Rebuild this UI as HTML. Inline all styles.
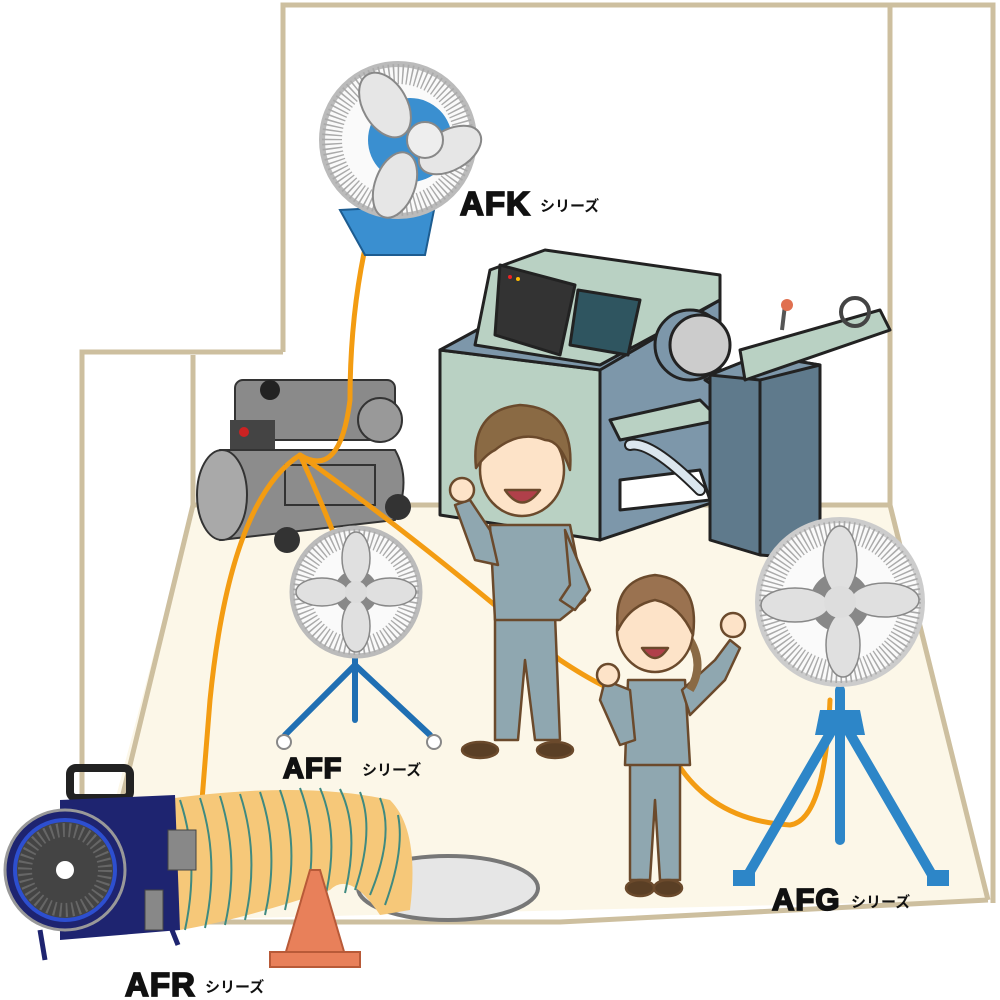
<!DOCTYPE html>
<html><head><meta charset="utf-8"><style>
html,body{margin:0;padding:0;background:#fff;}
svg{display:block;}
text{font-family:"Liberation Sans","Noto Sans CJK JP",sans-serif;font-weight:bold;fill:#111;}
.big{stroke:#111;stroke-width:1.8;letter-spacing:1px;}
</style></head><body>
<svg width="1000" height="1000" viewBox="0 0 1000 1000" xmlns="http://www.w3.org/2000/svg">
<!-- floor -->
<polygon points="193,505 890,505 988,900 83,922" fill="#fcf7e8"/>
<g stroke="#cdbf9f" stroke-width="5" fill="none">
<polyline points="283,352 283,5 993,5 993,903"/>
<polyline points="283,352 82,352 82,925"/>
<line x1="193" y1="355" x2="193" y2="505"/>
<line x1="890" y1="5" x2="890" y2="505"/>
<polyline points="193,505 890,505 988,900"/>
<line x1="193" y1="505" x2="92" y2="922"/>
<polyline points="82,922 560,922 988,900"/>
</g>

<!-- lathe machine -->
<g stroke="#222" stroke-width="3" stroke-linejoin="round">
<polygon points="600,540 720,500 720,280 600,300" fill="#7d97aa"/>
<polygon points="440,350 600,370 600,540 440,515" fill="#b9d1c3"/>
<polygon points="440,350 600,370 720,300 560,285" fill="#7d97aa"/>
<polygon points="490,270 545,250 720,275 720,300 600,365 475,345" fill="#b9d1c3"/>
<polygon points="500,265 575,285 560,355 495,335" fill="#333"/>
<polygon points="578,290 640,300 628,355 570,345" fill="#2f5560"/>
<polygon points="610,420 700,400 720,420 620,440" fill="#b9d1c3"/>
<polygon points="620,480 700,470 710,500 620,510" fill="#fff"/>
<circle cx="690" cy="345" r="35" fill="#7d97aa"/>
<circle cx="700" cy="345" r="30" fill="#ccc"/>
<polygon points="705,380 820,330 830,345 720,390" fill="#b9d1c3"/>
<polygon points="710,375 760,355 820,365 820,560 760,555 710,540" fill="#5f7a8c"/>
<polygon points="710,375 760,355 820,365 760,380" fill="#7d97aa"/>
<line x1="760" y1="380" x2="760" y2="555"/>
<polygon points="740,350 880,310 890,330 745,380" fill="#b9d1c3"/>
</g>
<path d="M630,445 Q650,440 700,490" stroke="#222" stroke-width="12" stroke-linecap="round" fill="none"/>
<path d="M630,445 Q650,440 700,490" stroke="#dbe6ee" stroke-width="8" stroke-linecap="round" fill="none"/>
<circle cx="855" cy="312" r="14" fill="none" stroke="#444" stroke-width="4"/>
<line x1="785" y1="305" x2="782" y2="330" stroke="#555" stroke-width="4"/>
<circle cx="787" cy="305" r="6" fill="#e07050"/>
<circle cx="510" cy="277" r="2" fill="#e22"/><circle cx="518" cy="279" r="2" fill="#fb0"/>

<!-- compressor -->
<g>
<rect x="235" y="380" width="160" height="60" rx="8" fill="#8a8a8a" stroke="#333" stroke-width="2"/>
<circle cx="380" cy="420" r="22" fill="#999" stroke="#333" stroke-width="2"/>
<circle cx="270" cy="390" r="10" fill="#222"/>
<rect x="230" y="420" width="45" height="35" fill="#444"/>
<circle cx="244" cy="432" r="5" fill="#c22"/>
<path d="M220,450 L395,450 Q412,480 395,520 L220,540 Q195,500 220,450Z" fill="#8c8c8c" stroke="#333" stroke-width="2"/>
<ellipse cx="222" cy="495" rx="25" ry="45" fill="#a9a9a9" stroke="#333" stroke-width="2"/>
<rect x="285" y="465" width="90" height="40" fill="none" stroke="#333" stroke-width="2"/>
<circle cx="287" cy="540" r="13" fill="#333"/><circle cx="398" cy="507" r="13" fill="#333"/>
</g>

<!-- hoses -->
<g stroke="#f39c12" stroke-width="5" fill="none" stroke-linecap="round">
<path d="M300,455 Q340,480 350,400 Q350,260 395,150"/>
<path d="M300,455 Q230,500 210,700 L200,825"/>
<path d="M300,455 Q330,520 355,590"/>
<path d="M300,455 Q420,540 560,660 Q620,700 650,700"/>
<path d="M665,740 Q700,820 790,825 Q825,820 830,700"/>
</g>

<!-- AFK wall fan -->
<g>
<polygon points="340,210 435,205 425,255 365,255" fill="#3a8fd0" stroke="#1d5c90" stroke-width="2"/>
<circle cx="398" cy="140" r="76" fill="#fafafa" stroke="#bbb" stroke-width="6"/>
<circle cx="398" cy="140" r="66" fill="none" stroke="#aaa" stroke-width="20" stroke-dasharray="1.5 3"/>
<circle cx="410" cy="140" r="42" fill="#3a8fd0"/>
<g fill="#e6e6e6" stroke="#888" stroke-width="2">
<ellipse cx="385" cy="105" rx="22" ry="35" transform="rotate(-30 385 105)"/>
<ellipse cx="450" cy="150" rx="20" ry="34" transform="rotate(60 450 150)"/>
<ellipse cx="395" cy="185" rx="20" ry="34" transform="rotate(20 395 185)"/>
</g>
<circle cx="425" cy="140" r="18" fill="#eee" stroke="#888" stroke-width="2"/>
</g>
<text class="big" x="460" y="215" font-size="33">AFK</text><text x="540" y="211" font-size="15">シリーズ</text>

<!-- AFF stand fan -->
<g stroke="#1f6fb3" stroke-width="6" stroke-linecap="round">
<line x1="355" y1="655" x2="355" y2="720"/>
<line x1="355" y1="665" x2="285" y2="735"/>
<line x1="355" y1="665" x2="430" y2="735"/>
</g>
<circle cx="284" cy="742" r="7" fill="#fff" stroke="#888" stroke-width="2"/>
<circle cx="434" cy="742" r="7" fill="#fff" stroke="#888" stroke-width="2"/>
<circle cx="356" cy="592" r="64" fill="#fafafa" stroke="#bbb" stroke-width="5"/>
<circle cx="356" cy="592" r="54" fill="none" stroke="#aaa" stroke-width="18" stroke-dasharray="1.5 3"/>
<circle cx="356" cy="592" r="22" fill="#888"/>
<g fill="#e0e0e0" stroke="#888" stroke-width="1.5">
<ellipse cx="356" cy="558" rx="14" ry="26"/><ellipse cx="356" cy="626" rx="14" ry="26"/>
<ellipse cx="322" cy="592" rx="26" ry="14"/><ellipse cx="390" cy="592" rx="26" ry="14"/>
</g>
<circle cx="356" cy="592" r="11" fill="#ddd"/>
<text class="big" x="283" y="778" font-size="29">AFF</text><text x="362" y="775" font-size="15">シリーズ</text>

<!-- AFG fan -->
<g stroke="#2d86c8" stroke-width="10" stroke-linecap="round">
<line x1="840" y1="690" x2="840" y2="840"/>
<line x1="835" y1="725" x2="745" y2="880"/>
<line x1="845" y1="725" x2="935" y2="880"/>
</g>
<polygon points="820,710 860,710 865,735 815,735" fill="#2d86c8"/>
<rect x="733" y="870" width="22" height="16" fill="#2d86c8"/><rect x="927" y="870" width="22" height="16" fill="#2d86c8"/>
<circle cx="840" cy="602" r="82" fill="#fafafa" stroke="#ccc" stroke-width="6"/>
<circle cx="840" cy="602" r="70" fill="none" stroke="#aaa" stroke-width="22" stroke-dasharray="1.5 3"/>
<circle cx="840" cy="602" r="30" fill="#888"/>
<g fill="#e0e0e0" stroke="#888" stroke-width="1.5">
<ellipse cx="840" cy="560" rx="17" ry="34"/><ellipse cx="843" cy="645" rx="17" ry="32"/>
<ellipse cx="795" cy="605" rx="34" ry="17"/><ellipse cx="885" cy="600" rx="34" ry="17"/>
</g>
<circle cx="840" cy="602" r="16" fill="#ddd"/>
<text class="big" x="772" y="910" font-size="31">AFG</text><text x="851" y="907" font-size="15">シリーズ</text>

<!-- man -->
<g stroke="#6b4a2c" stroke-width="2.5" stroke-linejoin="round">
<polygon points="495,615 555,615 560,740 535,740 525,660 518,740 495,740" fill="#8fa7b0"/>
<polygon points="490,525 570,525 585,600 560,620 495,620" fill="#8fa7b0"/>
<polygon points="490,530 470,500 455,505 475,560 498,565" fill="#8fa7b0"/>
<polygon points="565,530 590,590 575,610 560,600 570,585" fill="#8fa7b0"/>
<ellipse cx="480" cy="750" rx="18" ry="8" fill="#5a3f25"/>
<ellipse cx="555" cy="750" rx="18" ry="8" fill="#5a3f25"/>
<circle cx="462" cy="490" r="12" fill="#fde3c8"/>
<ellipse cx="522" cy="470" rx="42" ry="46" fill="#fde3c8"/>
<path d="M476,468 Q470,410 520,405 Q575,408 570,470 Q560,440 545,440 Q520,430 495,450 Q485,455 476,468Z" fill="#8a6a44"/>
<path d="M505,490 Q522,515 540,490Z" fill="#b0404a"/>
</g>

<!-- woman -->
<g stroke="#6b4a2c" stroke-width="2.5" stroke-linejoin="round">
<polygon points="630,760 680,760 680,880 660,880 655,800 650,880 630,880" fill="#8fa7b0"/>
<polygon points="628,680 685,680 690,765 625,765" fill="#8fa7b0"/>
<polygon points="630,690 605,680 600,700 620,745 635,740" fill="#8fa7b0"/>
<polygon points="682,690 715,660 730,640 740,648 725,680 690,715" fill="#8fa7b0"/>
<ellipse cx="640" cy="888" rx="14" ry="8" fill="#5a3f25"/>
<ellipse cx="668" cy="888" rx="14" ry="8" fill="#5a3f25"/>
<circle cx="608" cy="675" r="11" fill="#fde3c8"/>
<circle cx="733" cy="625" r="12" fill="#fde3c8"/>
<path d="M690,640 Q705,665 690,690" fill="none" stroke="#8a6a44" stroke-width="8"/>
<ellipse cx="655" cy="630" rx="38" ry="42" fill="#fde3c8"/>
<path d="M618,630 Q612,580 655,575 Q700,580 693,635 Q680,605 655,600 Q630,605 618,630Z" fill="#9a7250"/>
<path d="M642,648 Q655,668 668,648Z" fill="#b0404a"/>
</g>

<!-- manhole -->
<ellipse cx="448" cy="888" rx="90" ry="32" fill="#e6e6e6" stroke="#777" stroke-width="4"/>
<!-- AFR duct -->
<path d="M160,800 Q300,780 390,800 Q420,830 410,910 L380,915 Q350,870 330,890 Q240,920 180,930Z" fill="#f6c879"/>
<g stroke="#3f8a80" stroke-width="2" fill="none">
<path d="M180,800 Q200,860 185,930"/><path d="M200,798 Q220,860 205,928"/><path d="M220,796 Q240,860 225,925"/>
<path d="M240,794 Q260,855 245,920"/><path d="M260,792 Q280,850 265,915"/><path d="M280,790 Q300,845 285,910"/>
<path d="M300,788 Q320,840 305,905"/><path d="M320,788 Q340,835 325,898"/><path d="M340,789 Q360,830 345,893"/>
<path d="M360,792 Q375,830 355,890"/><path d="M380,798 Q395,835 370,895"/><path d="M398,815 Q405,850 385,905"/>
</g>
<!-- cone -->
<polygon points="310,870 320,870 345,955 285,955" fill="#e8805a" stroke="#b85a38" stroke-width="2"/>
<rect x="270" y="952" width="90" height="15" fill="#e8805a" stroke="#b85a38" stroke-width="2"/>
<!-- blower -->
<rect x="70" y="768" width="60" height="30" rx="6" fill="none" stroke="#222" stroke-width="8"/>
<path d="M60,800 L175,795 L180,930 L60,940Z" fill="#1e2470"/>
<circle cx="65" cy="870" r="60" fill="#1e2470" stroke="#999" stroke-width="3"/>
<circle cx="65" cy="870" r="50" fill="#444" stroke="#2d4fd0" stroke-width="4"/>
<circle cx="65" cy="870" r="40" fill="none" stroke="#666" stroke-width="14" stroke-dasharray="2 4"/>
<circle cx="65" cy="870" r="9" fill="#fff"/>
<rect x="168" y="830" width="28" height="40" fill="#888" stroke="#444"/>
<rect x="145" y="890" width="18" height="40" fill="#888" stroke="#444"/>
<line x1="40" y1="930" x2="45" y2="960" stroke="#1e2470" stroke-width="5"/>
<line x1="170" y1="925" x2="178" y2="945" stroke="#1e2470" stroke-width="5"/>
<text class="big" x="125" y="996" font-size="33">AFR</text><text x="205" y="992" font-size="15">シリーズ</text>
</svg>
</body></html>
